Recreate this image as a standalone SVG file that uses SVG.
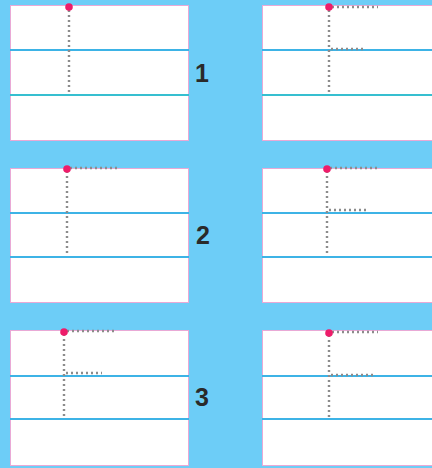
<svg xmlns="http://www.w3.org/2000/svg" width="432" height="468" viewBox="0 0 432 468">
<style>
.panel{fill:#ffffff;stroke:#e9a9d6;stroke-width:1}
.rule{stroke:#3db3e6;stroke-width:2}
.dot{stroke:#8c8c8c;stroke-width:2.4;stroke-dasharray:2 3;fill:none}
.pin{fill:#ee1c6a}
.lbl{font-family:"Liberation Sans",Arial,sans-serif;font-size:25px;font-weight:bold;fill:#2a2a2a;text-anchor:middle}
</style>
<rect width="432" height="468" fill="#6dcdf7"/>
<g id="p1L">
<rect class="panel" x="10.5" y="5.5" width="178" height="135"/>
<line class="rule" x1="10" y1="50" x2="189" y2="50"/>
<line class="rule" x1="10" y1="95" x2="189" y2="95" style="stroke:#36bfd0"/>
</g>
<g id="p1R">
<rect class="panel" x="262.5" y="5.5" width="175" height="135"/>
<line class="rule" x1="262" y1="50" x2="432" y2="50"/>
<line class="rule" x1="262" y1="95" x2="432" y2="95" style="stroke:#36bfd0"/>
</g>
<g id="p2L">
<rect class="panel" x="10.5" y="168.5" width="178" height="134"/>
<line class="rule" x1="10" y1="213" x2="189" y2="213"/>
<line class="rule" x1="10" y1="257" x2="189" y2="257"/>
</g>
<g id="p2R">
<rect class="panel" x="262.5" y="168.5" width="175" height="134"/>
<line class="rule" x1="262" y1="213" x2="432" y2="213"/>
<line class="rule" x1="262" y1="257" x2="432" y2="257"/>
</g>
<g id="p3L">
<rect class="panel" x="10.5" y="330.5" width="178" height="135"/>
<line class="rule" x1="10" y1="376" x2="189" y2="376"/>
<line class="rule" x1="10" y1="419" x2="189" y2="419"/>
</g>
<g id="p3R">
<rect class="panel" x="262.5" y="330.5" width="175" height="135"/>
<line class="rule" x1="262" y1="376" x2="432" y2="376"/>
<line class="rule" x1="262" y1="419" x2="432" y2="419"/>
</g>
<g id="connectors">
<path class="dot" d="M69 10 V94"/>
<path class="dot" d="M332 7 H378 M329 10 V95 M331 49 H364"/>
<path class="dot" d="M70 168 H117 M67 171 V256"/>
<path class="dot" d="M330 168 H379 M327 171 V255 M329 210 H368"/>
<path class="dot" d="M67 331 H115 M64 334 V418 M66 373 H102"/>
<path class="dot" d="M332 332 H378 M329 335 V420 M331 375 H373"/>
</g>
<g id="pins">
<circle class="pin" cx="69" cy="7" r="3.8"/>
<circle class="pin" cx="329" cy="7" r="3.8"/>
<circle class="pin" cx="67" cy="169" r="3.8"/>
<circle class="pin" cx="327" cy="169" r="3.8"/>
<circle class="pin" cx="64" cy="332" r="3.8"/>
<circle class="pin" cx="329" cy="333" r="3.8"/>
</g>
<g id="labels">
<text class="lbl" x="202" y="82">1</text>
<text class="lbl" x="203" y="244">2</text>
<text class="lbl" x="202" y="406">3</text>
</g>
</svg>
